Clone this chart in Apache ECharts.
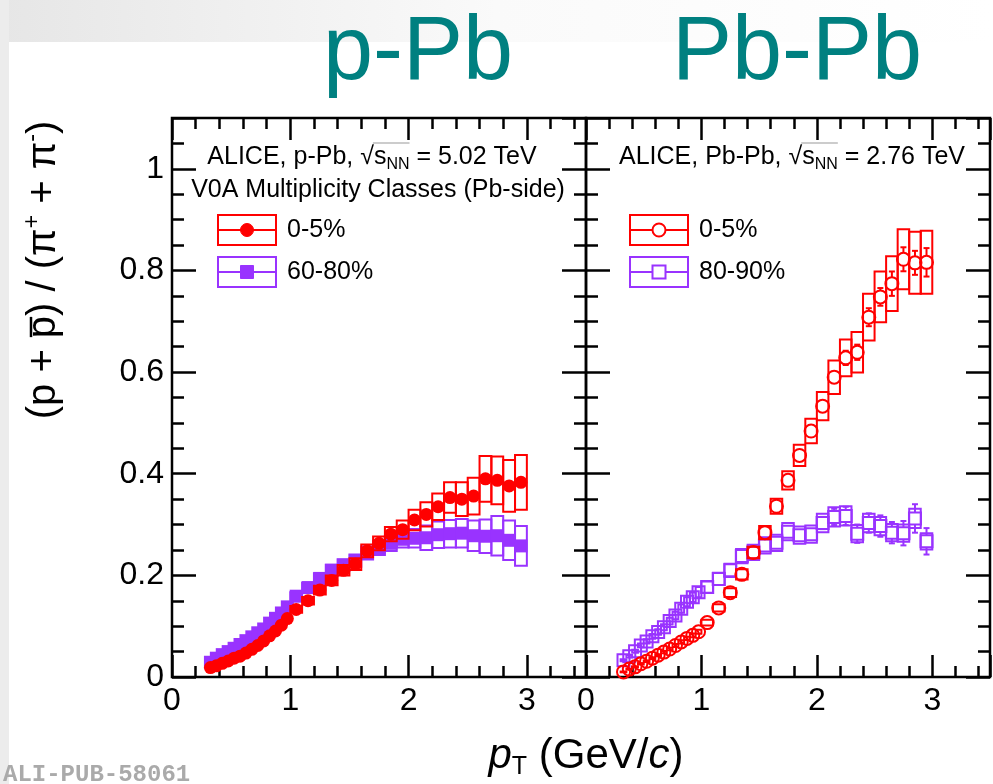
<!DOCTYPE html>
<html>
<head>
<meta charset="utf-8">
<script src="https://cdn.jsdelivr.net/npm/echarts@6/dist/echarts.min.js"></script>
<style>
  html, body { margin: 0; padding: 0; background: #fff; }
  #chart { width: 993px; height: 784px; }
</style>
</head>
<body>
<div id="chart"></div>
<script>
// pT bin centres (GeV/c): 0.05 wide below 1 GeV/c, 0.1 wide above
const ptBins = [0.325, 0.375, 0.425, 0.475, 0.525, 0.575, 0.625, 0.675, 0.725, 0.775,
                0.825, 0.875, 0.925, 0.975, 1.05, 1.15, 1.25, 1.35, 1.45, 1.55,
                1.65, 1.75, 1.85, 1.95, 2.05, 2.15, 2.25, 2.35, 2.45, 2.55,
                2.65, 2.75, 2.85, 2.95];

// p-Pb, V0A 0-5%
const ppbCentral = [0.0185, 0.022, 0.027, 0.0315, 0.037, 0.041, 0.047, 0.0545, 0.062, 0.071,
                    0.081, 0.0905, 0.102, 0.115, 0.133, 0.150, 0.171, 0.190, 0.210, 0.222,
                    0.248, 0.263, 0.281, 0.290, 0.309, 0.320, 0.335, 0.353, 0.350, 0.356,
                    0.390, 0.387, 0.376, 0.383];
const ppbCentralSys = [0.0010, 0.0012, 0.0014, 0.0016, 0.0018, 0.0020, 0.0023, 0.0026, 0.0030, 0.0034,
                       0.0038, 0.0043, 0.0048, 0.0055, 0.0065, 0.0075, 0.0085, 0.0095, 0.0105, 0.0115,
                       0.0125, 0.0135, 0.014, 0.018, 0.020, 0.024, 0.026, 0.030, 0.033, 0.036,
                       0.045, 0.047, 0.051, 0.054];

// p-Pb, V0A 60-80%
const ppbPeripheral = [0.029, 0.037, 0.044, 0.050, 0.0565, 0.064, 0.0715, 0.079, 0.087, 0.0945,
                       0.106, 0.1155, 0.126, 0.138, 0.159, 0.176, 0.194, 0.210, 0.220, 0.229,
                       0.244, 0.254, 0.263, 0.271, 0.273, 0.274, 0.280, 0.282, 0.283, 0.278,
                       0.277, 0.278, 0.269, 0.258];
const ppbPeripheralSys = [0.0015, 0.0019, 0.0023, 0.0026, 0.0029, 0.0033, 0.0037, 0.0041, 0.0045, 0.0049,
                          0.0055, 0.006, 0.0065, 0.0072, 0.008, 0.009, 0.010, 0.011, 0.0115, 0.012,
                          0.013, 0.014, 0.015, 0.016, 0.018, 0.024, 0.026, 0.027, 0.028, 0.030,
                          0.033, 0.039, 0.039, 0.039];

// Pb-Pb, 0-5%
const pbpbCentral = [0.010, 0.0155, 0.020, 0.026, 0.031, 0.037, 0.043, 0.049, 0.055, 0.062,
                     0.069, 0.076, 0.082, 0.089, 0.107, 0.136, 0.166, 0.202, 0.245, 0.284,
                     0.336, 0.387, 0.436, 0.484, 0.533, 0.590, 0.628, 0.639, 0.708, 0.748,
                     0.774, 0.822, 0.815, 0.816];
const pbpbCentralSys = [0.0008, 0.0010, 0.0012, 0.0014, 0.0016, 0.0018, 0.0020, 0.0022, 0.0025, 0.0028,
                        0.0031, 0.0034, 0.0037, 0.0040, 0.0055, 0.0070, 0.0085, 0.0100, 0.0115, 0.013,
                        0.015, 0.018, 0.021, 0.024, 0.028, 0.033, 0.036, 0.040, 0.046, 0.050,
                        0.054, 0.059, 0.061, 0.062];
const pbpbCentralStat = [0.0003, 0.0003, 0.0004, 0.0004, 0.0005, 0.0005, 0.0006, 0.0006, 0.0007, 0.0007,
                         0.0008, 0.0008, 0.0009, 0.0010, 0.0012, 0.0015, 0.0020, 0.0025, 0.003, 0.004,
                         0.005, 0.006, 0.007, 0.009, 0.010, 0.012, 0.014, 0.015, 0.0177, 0.0174,
                         0.024, 0.0236, 0.0236, 0.028];

// Pb-Pb, 80-90%
const pbpbPeripheral = [0.033, 0.041, 0.0505, 0.062, 0.070, 0.080, 0.0886, 0.098, 0.110, 0.121,
                        0.1345, 0.148, 0.157, 0.167, 0.177, 0.193, 0.210, 0.238, 0.245, 0.259,
                        0.264, 0.286, 0.279, 0.281, 0.303, 0.315, 0.317, 0.282, 0.303, 0.297,
                        0.284, 0.283, 0.312, 0.267];
const pbpbPeripheralSys = [0.0020, 0.0025, 0.0030, 0.0037, 0.0042, 0.0048, 0.0053, 0.0059, 0.0066, 0.0073,
                           0.0081, 0.0089, 0.0094, 0.010, 0.011, 0.012, 0.013, 0.014, 0.015, 0.016,
                           0.016, 0.017, 0.017, 0.017, 0.018, 0.019, 0.019, 0.017, 0.018, 0.018,
                           0.017, 0.017, 0.019, 0.016];
const pbpbPeripheralStat = [0.002, 0.002, 0.002, 0.0025, 0.0025, 0.003, 0.003, 0.003, 0.0035, 0.0035,
                            0.004, 0.004, 0.0045, 0.0045, 0.005, 0.005, 0.006, 0.006, 0.007, 0.007,
                            0.008, 0.009, 0.009, 0.010, 0.012, 0.016, 0.018, 0.018, 0.019, 0.021,
                            0.021, 0.024, 0.028, 0.026];

const xTickLabels = ['0', '1', '2', '3'];
const yTickLabels = ['0', '0.2', '0.4', '0.6', '0.8', '1'];
const panelTitles = ['p-Pb', 'Pb-Pb'];
const ppbLegend = ['0-5%', '60-80%'];
const pbpbLegend = ['0-5%', '80-90%'];

const FONT = '"Liberation Sans", Arial, Helvetica, sans-serif';
const RED = '#ff0000';
const VIOLET = '#9933ff';
const TEAL = '#008080';

function fontStyle(size, extra) {
  const italic = extra && extra.fontStyle === 'italic';
  return Object.assign({
    fontSize: size,
    fontFamily: FONT,
    font: (italic ? 'italic ' : '') + size + 'px ' + FONT
  }, extra || {});
}

const measureCtx = document.createElement('canvas').getContext('2d');
function textWidth(str, size) {
  measureCtx.font = size + 'px ' + FONT;
  return measureCtx.measureText(str).width;
}

// ---- axes: a labelled major axis and an unlabelled minor axis on every frame side ----
const tickLine = { color: '#000', width: 2.5 };

function xLabelFormatter(v) {
  const k = Math.round(v);
  return (Math.abs(v - k) < 1e-6 && k >= 0 && k < xTickLabels.length) ? xTickLabels[k] : '';
}
function yLabelFormatter(v) {
  const k = Math.round(v / 0.2);
  return (Math.abs(v - k * 0.2) < 1e-6 && k >= 0 && k < yTickLabels.length) ? yTickLabels[k] : '';
}

function makeXAxes(grid) {
  const base = {
    type: 'value', gridIndex: grid, min: 0, max: 3.5,
    axisLine: { show: false, onZero: false }, splitLine: { show: false }
  };
  return [
    Object.assign({}, base, {
      position: 'bottom', interval: 1,
      axisTick: { inside: true, length: 22, lineStyle: tickLine },
      axisLabel: { show: true, margin: 8, fontSize: 32, fontFamily: FONT, color: '#000', formatter: xLabelFormatter }
    }),
    Object.assign({}, base, {
      position: 'bottom', interval: 0.2,
      axisTick: { inside: true, length: 11, lineStyle: tickLine }, axisLabel: { show: false }
    }),
    Object.assign({}, base, {
      position: 'top', interval: 1,
      axisTick: { inside: true, length: 22, lineStyle: tickLine }, axisLabel: { show: false }
    }),
    Object.assign({}, base, {
      position: 'top', interval: 0.2,
      axisTick: { inside: true, length: 11, lineStyle: tickLine }, axisLabel: { show: false }
    })
  ];
}

function makeYAxes(grid, withLabels) {
  const base = {
    type: 'value', gridIndex: grid, min: 0, max: 1.1,
    axisLine: { show: false, onZero: false }, splitLine: { show: false }
  };
  return [
    Object.assign({}, base, {
      position: 'left', interval: 0.2,
      axisTick: { inside: true, length: 24, lineStyle: tickLine },
      axisLabel: { show: withLabels, margin: 8, fontSize: 32, fontFamily: FONT, color: '#000', formatter: yLabelFormatter }
    }),
    Object.assign({}, base, {
      position: 'left', interval: 0.05,
      axisTick: { inside: true, length: 12, lineStyle: tickLine }, axisLabel: { show: false }
    }),
    Object.assign({}, base, {
      position: 'right', interval: 0.2,
      axisTick: { inside: true, length: 24, lineStyle: tickLine }, axisLabel: { show: false }
    }),
    Object.assign({}, base, {
      position: 'right', interval: 0.05,
      axisTick: { inside: true, length: 12, lineStyle: tickLine }, axisLabel: { show: false }
    })
  ];
}

// ---- series: systematic boxes (+ statistical bars) and markers ----
function uncertaintySeries(values, sys, stat, color, axisIdx, markerR, z) {
  return {
    type: 'custom', xAxisIndex: axisIdx, yAxisIndex: axisIdx, z: z, silent: true, clip: true,
    encode: { x: 0, y: 1 },
    data: ptBins.map((x, i) => [x, values[i], sys[i], stat ? stat[i] : 0]),
    renderItem(params, api) {
      const x = api.value(0), y = api.value(1), s = api.value(2), e = api.value(3);
      const hw = x < 1 ? 0.025 : 0.05;               // half bin width
      const tl = api.coord([x - hw, y + s]);
      const br = api.coord([x + hw, y - s]);
      const children = [{
        type: 'rect',
        shape: { x: tl[0], y: tl[1], width: br[0] - tl[0], height: br[1] - tl[1] },
        style: { fill: 'none', stroke: color, lineWidth: 2 }
      }];
      if (e > 0) {
        const c = api.coord([x, y]);
        const top = api.coord([x, y + e])[1];
        const bot = api.coord([x, y - e])[1];
        if (c[1] - top > markerR) {
          const ls = { stroke: color, lineWidth: 2 };
          children.push(
            { type: 'line', shape: { x1: c[0], y1: top, x2: c[0], y2: c[1] - markerR }, style: ls },
            { type: 'line', shape: { x1: c[0], y1: c[1] + markerR, x2: c[0], y2: bot }, style: ls },
            { type: 'line', shape: { x1: c[0] - 3, y1: top, x2: c[0] + 3, y2: top }, style: ls },
            { type: 'line', shape: { x1: c[0] - 3, y1: bot, x2: c[0] + 3, y2: bot }, style: ls }
          );
        }
      }
      return { type: 'group', children };
    }
  };
}

function markerSeries(values, color, axisIdx, symbol, size, open, z) {
  return {
    type: 'scatter', xAxisIndex: axisIdx, yAxisIndex: axisIdx, z: z, silent: true,
    symbol: symbol, symbolSize: size,
    data: ptBins.map((x, i) => [x, values[i]]),
    itemStyle: open
      ? { color: 'rgba(255,255,255,0)', borderColor: color, borderWidth: 2, opacity: 1 }
      : { color: color, opacity: 1 },
    emphasis: { disabled: true }
  };
}

// ---- y title (p + p̄) / (π⁺ + π⁻), laid out along a rotated baseline ----
const Y_TITLE_SIZE = 40, Y_SUP_SIZE = 23;
const yTitleParts = ['(p + p) / (\u03c0', '+', ' + \u03c0', '-', ')'];
const yTitleWidth = textWidth(yTitleParts[0], Y_TITLE_SIZE) + textWidth(yTitleParts[1], Y_SUP_SIZE) +
  textWidth(yTitleParts[2], Y_TITLE_SIZE) + textWidth(yTitleParts[3], Y_SUP_SIZE) + textWidth(yTitleParts[4], Y_TITLE_SIZE);
const barStart = textWidth('(p + ', Y_TITLE_SIZE);
const barWidth = textWidth('p', Y_TITLE_SIZE);

const yTitle = {
  type: 'group', x: 44, y: 270 + yTitleWidth / 2, rotation: Math.PI / 2, z: 20,
  children: [
    {
      type: 'text', x: 0, y: 0,
      style: Object.assign(fontStyle(Y_TITLE_SIZE), {
        text: '{n|' + yTitleParts[0] + '}{sup|' + yTitleParts[1] + '}{n|' + yTitleParts[2] + '}{sup|' + yTitleParts[3] + '}{n|' + yTitleParts[4] + '}',
        fill: '#000', align: 'left', verticalAlign: 'middle', lineHeight: 46,
        rich: {
          n: fontStyle(Y_TITLE_SIZE, { lineHeight: 46 }),
          sup: fontStyle(Y_SUP_SIZE, { verticalAlign: 'top', lineHeight: 23 })
        }
      })
    },
    {
      type: 'line',
      shape: { x1: barStart + 1, y1: -13, x2: barStart + barWidth - 1, y2: -13 },
      style: { stroke: '#000', lineWidth: 2.5 }
    }
  ]
};

// ---- in-frame labels and legend entries ----
function systemLabel(cx, cy, prefix, energy) {
  const tail = ' = ' + energy;
  const wPre = textWidth(prefix, 25), wRad = textWidth('\u221a', 25);
  const wS = textWidth('s', 25), wNN = textWidth('NN', 16), wTail = textWidth(tail, 25);
  const left = cx - (wPre + wRad + wS + wNN + wTail) / 2;
  const radEnd = left + wPre + wRad;
  return [
    {
      type: 'text', x: cx, y: cy, z: 20,
      style: Object.assign(fontStyle(25), {
        text: prefix + '\u221a{s|s}{sub|NN}' + tail,
        fill: '#000', align: 'center', verticalAlign: 'middle', lineHeight: 32,
        rich: {
          s: fontStyle(25, { lineHeight: 32 }),
          sub: fontStyle(16, { verticalAlign: 'bottom', lineHeight: 18 })
        }
      })
    },
    // overbar of the square root
    {
      type: 'line', z: 20,
      shape: { x1: radEnd - 1, y1: cy - 14, x2: radEnd + wS + wNN, y2: cy - 14 },
      style: { stroke: '#999', lineWidth: 1 }
    }
  ];
}

function legendEntry(x, y, color, marker, open, label) {
  const cx = x + 29, cy = y + 15;
  const markerShape = marker === 'circle'
    ? { type: 'circle', shape: { cx: cx, cy: cy, r: 6.5 } }
    : { type: 'rect', shape: { x: cx - 6.5, y: cy - 6.5, width: 13, height: 13 } };
  markerShape.style = open
    ? { fill: '#fff', stroke: color, lineWidth: 2 }
    : { fill: color, stroke: color, lineWidth: 1 };
  markerShape.z = 22;
  return [
    { type: 'rect', z: 20, shape: { x: x, y: y, width: 58, height: 30 }, style: { fill: 'none', stroke: color, lineWidth: 2 } },
    { type: 'line', z: 21, shape: { x1: x, y1: cy, x2: x + 58, y2: cy }, style: { stroke: color, lineWidth: 2 } },
    markerShape,
    {
      type: 'text', x: x + 69, y: cy, z: 20,
      style: Object.assign(fontStyle(25), { text: label, fill: '#000', align: 'left', verticalAlign: 'middle' })
    }
  ];
}

const graphics = [
  // slide backdrop
  {
    type: 'rect', z: -10, shape: { x: 0, y: 0, width: 993, height: 42 },
    style: { fill: new echarts.graphic.LinearGradient(0, 0, 1, 0, [
      { offset: 0, color: '#e6e6e6' }, { offset: 0.5, color: '#fafafa' }, { offset: 1, color: '#ffffff' }]) }
  },
  { type: 'rect', z: -10, shape: { x: 0, y: 0, width: 9, height: 784 }, style: { fill: '#ececec' } },
  // collision system titles
  {
    type: 'text', x: 418, y: 54, z: 20,
    style: Object.assign(fontStyle(90), { text: panelTitles[0], fill: TEAL, align: 'center', verticalAlign: 'middle' })
  },
  {
    type: 'text', x: 797, y: 54, z: 20,
    style: Object.assign(fontStyle(90), { text: panelTitles[1], fill: TEAL, align: 'center', verticalAlign: 'middle' })
  },
  ...systemLabel(372, 157, 'ALICE, p-Pb, ', '5.02 TeV'),
  {
    type: 'text', x: 378, y: 190, z: 20,
    style: Object.assign(fontStyle(25), { text: 'V0A Multiplicity Classes (Pb-side)', fill: '#000', align: 'center', verticalAlign: 'middle' })
  },
  ...systemLabel(792, 157, 'ALICE, Pb-Pb, ', '2.76 TeV'),
  ...legendEntry(218, 215, RED, 'circle', false, ppbLegend[0]),
  ...legendEntry(218, 257, VIOLET, 'square', false, ppbLegend[1]),
  ...legendEntry(630, 215, RED, 'circle', true, pbpbLegend[0]),
  ...legendEntry(630, 257, VIOLET, 'square', true, pbpbLegend[1]),
  // x title p_T (GeV/c)
  {
    type: 'text', x: 586, y: 756, z: 20,
    style: Object.assign(fontStyle(42), {
      text: '{i|p}{sub|T}{n| (GeV/}{i|c}{n|)}',
      fill: '#000', align: 'center', verticalAlign: 'middle', lineHeight: 48,
      rich: {
        n: fontStyle(42, { lineHeight: 48 }),
        i: fontStyle(42, { fontStyle: 'italic', lineHeight: 48 }),
        sub: fontStyle(25, { verticalAlign: 'bottom', lineHeight: 25 })
      }
    })
  },
  yTitle,
  // publication tag
  {
    type: 'text', x: 3, y: 775, z: 20,
    style: {
      text: 'ALI-PUB-58061', fontSize: 24, fontWeight: 'bold', fontFamily: '"Liberation Mono", "DejaVu Sans Mono", monospace',
      font: 'bold 24px "Liberation Mono", "DejaVu Sans Mono", monospace',
      fill: '#aaaaaa', align: 'left', verticalAlign: 'middle'
    }
  }
];

const option = {
  animation: false,
  backgroundColor: '#ffffff',
  grid: [
    { left: 172, top: 118, width: 414, height: 559, show: true, borderColor: '#000', borderWidth: 2.5, backgroundColor: 'transparent', containLabel: false },
    { left: 586, top: 118, width: 412, height: 559, show: true, borderColor: '#000', borderWidth: 2.5, backgroundColor: 'transparent', containLabel: false }
  ],
  xAxis: [...makeXAxes(0), ...makeXAxes(1)],
  yAxis: [...makeYAxes(0, true), ...makeYAxes(1, false)],
  series: [
    uncertaintySeries(ppbPeripheral, ppbPeripheralSys, null, VIOLET, 0, 6.5, 2),
    markerSeries(ppbPeripheral, VIOLET, 0, 'rect', 13, false, 3),
    uncertaintySeries(ppbCentral, ppbCentralSys, null, RED, 0, 6.5, 4),
    markerSeries(ppbCentral, RED, 0, 'circle', 13, false, 5),
    uncertaintySeries(pbpbPeripheral, pbpbPeripheralSys, pbpbPeripheralStat, VIOLET, 4, 6, 2),
    markerSeries(pbpbPeripheral, VIOLET, 4, 'rect', 12, true, 3),
    uncertaintySeries(pbpbCentral, pbpbCentralSys, pbpbCentralStat, RED, 4, 6.5, 4),
    markerSeries(pbpbCentral, RED, 4, 'circle', 13, true, 5)
  ],
  graphic: graphics
};

const chart = echarts.init(document.getElementById('chart'), null, { renderer: 'canvas' });
chart.setOption(option);
</script>
</body>
</html>
